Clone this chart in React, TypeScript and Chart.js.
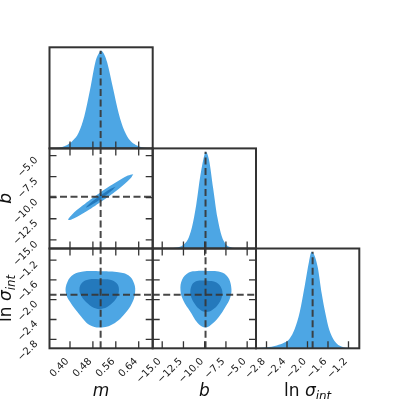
import React, { useEffect, useRef } from 'react';
import { Chart, registerables } from 'chart.js';
Chart.register(...registerables);

// ---------- data ----------
const mTicks = [0.40, 0.48, 0.56, 0.64];
const bTicks = [-15.0, -12.5, -10.0, -7.5, -5.0];
const lnsTicks = [-2.8, -2.4, -2.0, -1.6, -1.2];

const truthM = 0.507;
const truthB = -9.9;
const truthLns = -1.9;

const mHistX = [0.33, 0.35, 0.37, 0.39, 0.41, 0.43, 0.45, 0.47, 0.49, 0.50, 0.508, 0.52, 0.53, 0.55, 0.57, 0.59, 0.61, 0.63, 0.65, 0.67, 0.69];
const mHistY = [0.0, 0.004, 0.012, 0.035, 0.08, 0.16, 0.33, 0.60, 0.90, 0.97, 1.0, 0.96, 0.88, 0.62, 0.36, 0.18, 0.08, 0.035, 0.012, 0.003, 0.0];

const bHistX = [-16.0, -14.0, -13.0, -12.5, -12.0, -11.5, -11.0, -10.5, -10.0, -9.88, -9.5, -9.0, -8.5, -8.0, -7.5, -7.0, -6.0, -4.0];
const bHistY = [0.0, 0.004, 0.015, 0.04, 0.09, 0.22, 0.45, 0.76, 0.98, 1.0, 0.92, 0.62, 0.32, 0.13, 0.045, 0.015, 0.002, 0.0];

const lnsHistX = [-3.0, -2.8, -2.6, -2.45, -2.35, -2.25, -2.15, -2.05, -1.97, -1.92, -1.87, -1.80, -1.72, -1.65, -1.58, -1.50, -1.42, -1.34, -1.25, -1.0];
const lnsHistY = [0.0, 0.01, 0.03, 0.06, 0.10, 0.20, 0.38, 0.66, 0.90, 1.0, 0.97, 0.84, 0.56, 0.36, 0.20, 0.10, 0.045, 0.018, 0.005, 0.0];

const mbOuterM = [0.621, 0.610, 0.572, 0.516, 0.458, 0.413, 0.394, 0.405, 0.444, 0.500, 0.558, 0.602];
const mbOuterB = [-7.21, -7.76, -8.90, -10.31, -11.61, -12.46, -12.64, -12.08, -10.94, -9.53, -8.24, -7.38];
const mbInnerM = [0.559, 0.546, 0.511, 0.473, 0.456, 0.469, 0.505, 0.542];
const mbInnerB = [-8.69, -9.16, -10.06, -10.90, -11.16, -10.68, -9.78, -8.95];

const mlOuterM = [0.505, 0.563, 0.604, 0.624, 0.627, 0.616, 0.592, 0.557, 0.511, 0.470, 0.435, 0.400, 0.385, 0.391, 0.412, 0.446];
const mlOuterS = [-1.425, -1.44, -1.506, -1.673, -1.875, -2.077, -2.28, -2.468, -2.56, -2.514, -2.312, -2.044, -1.843, -1.641, -1.492, -1.431];
const mlInnerM = [0.505, 0.540, 0.563, 0.571, 0.564, 0.543, 0.515, 0.491, 0.463, 0.440, 0.433, 0.442, 0.466];
const mlInnerS = [-1.587, -1.597, -1.667, -1.788, -1.95, -2.09, -2.18, -2.18, -2.08, -1.93, -1.788, -1.657, -1.593];

const blOuterB = [-9.82, -8.14, -7.28, -6.88, -6.96, -7.55, -8.34, -9.32, -9.91, -10.69, -11.67, -12.53, -12.85, -12.65, -11.87, -10.88];
const blOuterS = [-1.42, -1.44, -1.54, -1.74, -1.94, -2.145, -2.347, -2.514, -2.56, -2.494, -2.246, -2.01, -1.81, -1.593, -1.452, -1.42];
const blInnerB = [-9.82, -8.61, -8.02, -7.94, -8.34, -9.12, -9.79, -10.49, -11.2, -11.64, -11.59, -11.08];
const blInnerS = [-1.613, -1.653, -1.774, -1.91, -2.077, -2.21, -2.25, -2.21, -2.077, -1.91, -1.74, -1.633];

// axis extents
const mRangeX = [0.3284, 0.6889];
const bRangeX = [-16.12, -3.96];
const bRangeY = [-16.03, -4.15];
const lnsRangeX = [-3.005, -0.989];
const lnsRangeY = [-2.981, -0.967];
const histMax = 1.035;

// ---------- styling / layout ----------
const SIZE = 399;
const COLS = [49.5, 152.7, 256, 359.3];
const ROWS = [47.3, 148.4, 248.5, 348.3];
const X_AXIS_H = 40;
const Y_AXIS_W = 45;
const FONT = '"DejaVu Sans", "Liberation Sans", sans-serif';
const LIGHT = '#4da6e4';
const DARK = '#2479bc';
const INK = '#333333';
const TRUTH = 'rgba(55,55,55,0.92)';

type Part = { t: string; it?: boolean; sub?: boolean };
const mTitle: Part[] = [{ t: 'm', it: true }];
const bTitle: Part[] = [{ t: 'b', it: true }];
const lnsTitle: Part[] = [{ t: 'ln' }, { t: ' ' }, { t: 'σ', it: true }, { t: 'int', it: true, sub: true }];

const pts = (xs: number[], ys: number[]) => xs.map((x, i) => ({ x, y: ys[i] }));
const closed = (xs: number[], ys: number[]) => {
  const p = pts(xs, ys);
  return [...p, p[0]];
};
const fmt = (v: number, d: number) => v.toFixed(d).replace('-', '\u2212');

function drawMath(ctx: CanvasRenderingContext2D, parts: Part[], x: number, y: number, rot: number, size: number) {
  ctx.save();
  ctx.translate(x, y);
  ctx.rotate(rot);
  ctx.fillStyle = '#111';
  ctx.textBaseline = 'alphabetic';
  ctx.textAlign = 'left';
  const fontOf = (p: Part) => `${p.it ? 'italic ' : ''}${p.sub ? size * 0.7 : size}px ${FONT}`;
  let total = 0;
  const widths = parts.map((p) => {
    ctx.font = fontOf(p);
    const w = ctx.measureText(p.t).width;
    total += w;
    return w;
  });
  let cx = -total / 2;
  parts.forEach((p, i) => {
    ctx.font = fontOf(p);
    ctx.fillText(p.t, cx, p.sub ? size * 0.22 : 0);
    cx += widths[i];
  });
  ctx.restore();
}

type Spec = {
  key: string;
  row: number;
  col: number;
  xRange: number[];
  yRange: number[];
  xTicks: number[];
  yTicks: number[] | null;
  xDec: number;
  yDec: number;
  showX: boolean;
  showY: boolean;
  xTitle?: Part[];
  yTitle?: Part[];
  yTitleX?: number;
  datasets: any[];
};

function makePlugin(spec: Spec) {
  return {
    id: 'cornerFrame',
    afterDatasetsDraw(chart: any) {
      const { ctx, chartArea: a, scales } = chart;
      const xs = scales.x;
      const ys = scales.y;
      const L = 7;
      ctx.save();
      ctx.strokeStyle = INK;
      ctx.lineWidth = 1.3;
      ctx.beginPath();
      spec.xTicks.forEach((v) => {
        const px = xs.getPixelForValue(v);
        ctx.moveTo(px, a.bottom);
        ctx.lineTo(px, a.bottom - L);
        if (spec.yTicks) {
          ctx.moveTo(px, a.top);
          ctx.lineTo(px, a.top + L);
        }
      });
      (spec.yTicks || []).forEach((v) => {
        const py = ys.getPixelForValue(v);
        ctx.moveTo(a.left, py);
        ctx.lineTo(a.left + L, py);
        ctx.moveTo(a.right, py);
        ctx.lineTo(a.right - L, py);
      });
      ctx.stroke();
      ctx.lineWidth = 2;
      ctx.strokeRect(a.left, a.top, a.right - a.left, a.bottom - a.top);
      if (spec.xTitle) drawMath(ctx, spec.xTitle, (a.left + a.right) / 2, 396, 0, 17);
      if (spec.yTitle) drawMath(ctx, spec.yTitle, spec.yTitleX || 11, (a.top + a.bottom) / 2, -Math.PI / 2, 17);
      ctx.restore();
    },
  };
}

function axis(range: number[], ticks: number[], dec: number, show: boolean, isX: boolean) {
  return {
    type: 'linear',
    min: range[0],
    max: range[1],
    display: show,
    position: isX ? 'bottom' : 'left',
    grid: { display: false, drawTicks: false },
    border: { display: false },
    ticks: {
      autoSkip: false,
      minRotation: 45,
      maxRotation: 45,
      padding: isX ? 7.4 : 13.0,
      labelOffset: isX ? -2.5 : 3.0,
      color: '#1a1a1a',
      font: { family: FONT, size: 10 },
      callback: (v: number) => fmt(v, dec),
    },
    afterBuildTicks: (s: any) => {
      s.ticks = ticks.map((v) => ({ value: v }));
    },
    afterFit: (s: any) => {
      if (!show) return;
      if (isX) s.height = X_AXIS_H;
      else s.width = Y_AXIS_W;
    },
  };
}

const truthLine = (data: any[]) => ({
  data,
  borderColor: TRUTH,
  borderWidth: 2,
  borderDash: [7, 3.5],
  pointRadius: 0,
  fill: false,
  tension: 0,
});
const histSet = (xs: number[], ys: number[]) => ({
  data: pts(xs, ys),
  borderWidth: 0,
  borderColor: LIGHT,
  backgroundColor: LIGHT,
  pointRadius: 0,
  fill: 'start',
  cubicInterpolationMode: 'monotone',
});
const contourSet = (xs: number[], ys: number[], color: string) => ({
  data: closed(xs, ys),
  borderWidth: 0,
  borderColor: color,
  backgroundColor: color,
  pointRadius: 0,
  fill: 'shape',
  tension: 0.4,
});

const specs: Spec[] = [
  {
    key: 'm-hist', row: 0, col: 0, xRange: mRangeX, yRange: [0, histMax], xTicks: mTicks, yTicks: null,
    xDec: 2, yDec: 1, showX: false, showY: false,
    datasets: [
      truthLine([{ x: truthM, y: 0 }, { x: truthM, y: 1 }]),
      histSet(mHistX, mHistY),
    ],
  },
  {
    key: 'm-b', row: 1, col: 0, xRange: mRangeX, yRange: bRangeY, xTicks: mTicks, yTicks: bTicks,
    xDec: 2, yDec: 1, showX: false, showY: true, yTitle: bTitle, yTitleX: 10.5,
    datasets: [
      truthLine([{ x: truthM, y: bRangeY[0] }, { x: truthM, y: bRangeY[1] }]),
      truthLine([{ x: mRangeX[0], y: truthB }, { x: mRangeX[1], y: truthB }]),
      contourSet(mbInnerM, mbInnerB, DARK),
      contourSet(mbOuterM, mbOuterB, LIGHT),
    ],
  },
  {
    key: 'b-hist', row: 1, col: 1, xRange: bRangeX, yRange: [0, histMax], xTicks: bTicks, yTicks: null,
    xDec: 1, yDec: 1, showX: false, showY: false,
    datasets: [
      truthLine([{ x: truthB, y: 0 }, { x: truthB, y: 1 }]),
      histSet(bHistX, bHistY),
    ],
  },
  {
    key: 'm-lns', row: 2, col: 0, xRange: mRangeX, yRange: lnsRangeY, xTicks: mTicks, yTicks: lnsTicks,
    xDec: 2, yDec: 1, showX: true, showY: true, xTitle: mTitle, yTitle: lnsTitle, yTitleX: 11,
    datasets: [
      truthLine([{ x: truthM, y: lnsRangeY[0] }, { x: truthM, y: lnsRangeY[1] }]),
      truthLine([{ x: mRangeX[0], y: truthLns }, { x: mRangeX[1], y: truthLns }]),
      contourSet(mlInnerM, mlInnerS, DARK),
      contourSet(mlOuterM, mlOuterS, LIGHT),
    ],
  },
  {
    key: 'b-lns', row: 2, col: 1, xRange: bRangeX, yRange: lnsRangeY, xTicks: bTicks, yTicks: lnsTicks,
    xDec: 1, yDec: 1, showX: true, showY: false, xTitle: bTitle,
    datasets: [
      truthLine([{ x: truthB, y: lnsRangeY[0] }, { x: truthB, y: lnsRangeY[1] }]),
      truthLine([{ x: bRangeX[0], y: truthLns }, { x: bRangeX[1], y: truthLns }]),
      contourSet(blInnerB, blInnerS, DARK),
      contourSet(blOuterB, blOuterS, LIGHT),
    ],
  },
  {
    key: 'lns-hist', row: 2, col: 2, xRange: lnsRangeX, yRange: [0, histMax], xTicks: lnsTicks, yTicks: null,
    xDec: 1, yDec: 1, showX: true, showY: false, xTitle: lnsTitle,
    datasets: [
      truthLine([{ x: truthLns, y: 0 }, { x: truthLns, y: 1 }]),
      histSet(lnsHistX, lnsHistY),
    ],
  },
];

function Panel({ spec }: { spec: Spec }) {
  const ref = useRef<HTMLCanvasElement>(null);
  useEffect(() => {
    const canvas = ref.current;
    if (!canvas) return;
    const chart = new Chart(canvas, {
      type: 'line',
      data: { datasets: spec.datasets },
      options: {
        responsive: false,
        animation: false,
        events: [],
        layout: {
          autoPadding: false,
          padding: {
            left: COLS[spec.col] - (spec.showY ? Y_AXIS_W : 0),
            right: SIZE - COLS[spec.col + 1],
            top: ROWS[spec.row],
            bottom: SIZE - ROWS[spec.row + 1] - (spec.showX ? X_AXIS_H : 0),
          },
        },
        plugins: { legend: { display: false }, tooltip: { enabled: false }, title: { display: false } },
        scales: {
          x: axis(spec.xRange, spec.xTicks, spec.xDec, spec.showX, true),
          y: axis(spec.yRange, spec.yTicks || [], spec.yDec, spec.showY, false),
        },
      } as any,
      plugins: [makePlugin(spec)],
    } as any);
    return () => chart.destroy();
  }, [spec]);
  return (
    <canvas
      ref={ref}
      width={SIZE}
      height={SIZE}
      style={{ position: 'absolute', left: 0, top: 0, width: SIZE, height: SIZE }}
    />
  );
}

export default function App() {
  return (
    <div style={{ position: 'fixed', left: 0, top: 0, width: SIZE, height: SIZE, background: '#ffffff', overflow: 'hidden' }}>
      {specs.map((s) => (
        <Panel key={s.key} spec={s} />
      ))}
    </div>
  );
}
